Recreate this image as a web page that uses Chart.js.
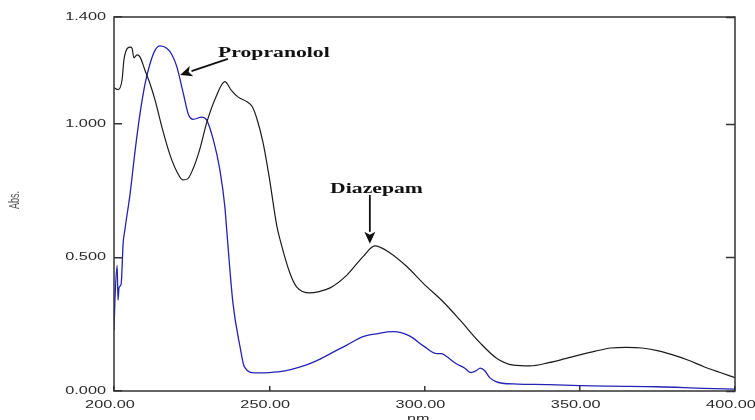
<!DOCTYPE html>
<html>
<head>
<meta charset="utf-8">
<script src="https://cdn.jsdelivr.net/npm/chart.js@4.4.1/dist/chart.umd.min.js"></script>
<style>
  html, body { margin: 0; padding: 0; background: #fff; }
  canvas { display: block; }
</style>
</head>
<body>
<canvas id="spectrum" width="755" height="420"></canvas>
<script>
// values (wavelength in nm, absorbance)
const diazepamNm = [200, 201.3, 202.6, 203.2, 204.5, 205.2, 205.8, 206.4, 207.4, 208.4,
  210, 211.6, 213.2, 215.5, 218, 220.3, 222.2, 223.8, 225.4, 227.5,
  230, 232.8, 235.7, 237.8, 240, 242.8, 244.5, 246, 248, 250,
  252.4, 253.5, 256.7, 258.8, 263.1, 266, 269.6, 275, 280.2, 284,
  288.9, 294.3, 299.6, 306, 311.4, 317.9, 323.2, 328.6, 334, 340,
  345, 350, 355, 360, 365, 370, 375, 380, 385, 390, 395, 400];
const diazepamAbs = [1.135, 1.128, 1.165, 1.24, 1.285, 1.287, 1.283, 1.247, 1.258, 1.25,
  1.2, 1.15, 1.09, 0.985, 0.885, 0.82, 0.79, 0.795, 0.83, 0.9,
  1.01, 1.10, 1.158, 1.125, 1.10, 1.083, 1.065, 1.02, 0.93, 0.8,
  0.62, 0.566, 0.44, 0.39, 0.367, 0.372, 0.386, 0.434, 0.503, 0.543,
  0.517, 0.466, 0.403, 0.334, 0.266, 0.18, 0.123, 0.097, 0.094, 0.106,
  0.12, 0.135, 0.149, 0.161, 0.163, 0.161, 0.151, 0.135, 0.115, 0.091, 0.07, 0.05];

const propranololNm = [200, 200.3, 201, 201.3, 201.6, 202.3, 202.6, 202.9, 203.5, 205.2,
  206.8, 208.4, 210, 211.6, 213.2, 214.8, 217, 218.7, 220.2, 222.3,
  224, 225.5, 228.2, 229.8, 232, 234.1, 235.7, 236.3, 238.3, 240.6,
  242, 245.4, 250, 255, 260, 265, 270, 275, 280, 285,
  290, 295, 300, 304, 305.5, 307, 310, 313, 315, 316.5,
  318, 319.5, 321, 323, 325, 330, 340, 350, 360, 375, 390, 400];
const propranololAbs = [0.228, 0.34, 0.47, 0.34, 0.386, 0.40, 0.46, 0.547, 0.603, 0.74,
  0.90, 1.04, 1.15, 1.225, 1.275, 1.292, 1.283, 1.258, 1.215, 1.115,
  1.034, 1.017, 1.025, 1.015, 0.94, 0.828, 0.69, 0.603, 0.33, 0.165,
  0.09, 0.068, 0.069, 0.075, 0.09, 0.112, 0.142, 0.172, 0.203, 0.215,
  0.222, 0.207, 0.166, 0.14, 0.14, 0.13, 0.104, 0.085, 0.069, 0.075,
  0.086, 0.075, 0.05, 0.035, 0.029, 0.026, 0.024, 0.02, 0.018, 0.016, 0.01, 0.007];

const xTicks = [200, 250, 300, 350, 400];
const xTickLabels = ["200.00", "250.00", "300.00", "350.00", "400.00"];
const yTicks = [0, 0.5, 1.0, 1.4];
const yTickLabels = ["0.000", "0.500", "1.000", "1.400"];

// callouts, placed in data coordinates
const callouts = [
  { text: "Propranolol", at: [233.5, 1.251], tail: [236.7, 1.243], tip: [221.3, 1.183] },
  { text: "Diazepam", at: [269.6, 0.742], tail: [282.4, 0.734], tip: [282.4, 0.551] }
];

// the scan is stretched sideways, so all text is widened the same way
const STRETCH = 1.55;

function wideText(ctx, text, x, y, align) {
  ctx.save();
  ctx.translate(x, y);
  ctx.scale(STRETCH, 1);
  ctx.textAlign = align;
  ctx.fillText(text, 0, 0);
  ctx.restore();
}

function arrow(ctx, x1, y1, x2, y2) {
  const ang = Math.atan2(y2 - y1, x2 - x1);
  const len = 12, half = 5.5;
  const bx = x2 - Math.cos(ang) * len, by = y2 - Math.sin(ang) * len;
  ctx.beginPath();
  ctx.moveTo(x1, y1);
  ctx.lineTo(bx, by);
  ctx.stroke();
  ctx.beginPath();
  ctx.moveTo(x2, y2);
  ctx.lineTo(bx + Math.sin(ang) * half, by - Math.cos(ang) * half);
  ctx.lineTo(bx + Math.cos(ang) * 3, by + Math.sin(ang) * 3);
  ctx.lineTo(bx - Math.sin(ang) * half, by + Math.cos(ang) * half);
  ctx.closePath();
  ctx.fill();
}

const decor = {
  id: "decor",
  afterDraw(chart) {
    const { ctx, chartArea: a, scales: { x, y } } = chart;
    ctx.save();

    ctx.strokeStyle = "#333";
    ctx.lineWidth = 1.5;
    ctx.strokeRect(a.left, a.top, a.right - a.left, a.bottom - a.top);

    // inner ticks on the right edge
    ctx.beginPath();
    yTicks.forEach(v => {
      const py = Math.round(y.getPixelForValue(v)) + 0.5;
      ctx.moveTo(a.right, py);
      ctx.lineTo(a.right - 9, py);
    });
    ctx.stroke();

    ctx.fillStyle = "#2a2a2a";
    ctx.font = '10.5px "Liberation Sans", Arial, sans-serif';
    ctx.textBaseline = "middle";
    yTicks.forEach((v, i) => wideText(ctx, yTickLabels[i], a.left - 8, y.getPixelForValue(v), "right"));
    xTicks.forEach((v, i) => wideText(ctx, xTickLabels[i], x.getPixelForValue(v) - 4, a.bottom + 14, "center"));

    wideText(ctx, "nm.", x.getPixelForValue(300) - 4, a.bottom + 28, "center");

    ctx.fillStyle = "#555";
    ctx.font = '9px "Liberation Sans", Arial, sans-serif';
    ctx.save();
    ctx.translate(15, (a.top + a.bottom) / 2 - 4);
    ctx.scale(STRETCH, 1);
    ctx.rotate(-Math.PI / 2);
    ctx.textAlign = "center";
    ctx.fillText("Abs.", 0, 0);
    ctx.restore();

    // labels with arrows
    ctx.fillStyle = "#111";
    ctx.strokeStyle = "#111";
    ctx.lineWidth = 1.8;
    ctx.font = 'bold 14px "Liberation Serif", "Times New Roman", serif';
    ctx.textBaseline = "alphabetic";
    callouts.forEach(c => {
      wideText(ctx, c.text, x.getPixelForValue(c.at[0]), y.getPixelForValue(c.at[1]), "left");
      arrow(ctx,
        x.getPixelForValue(c.tail[0]), y.getPixelForValue(c.tail[1]),
        x.getPixelForValue(c.tip[0]), y.getPixelForValue(c.tip[1]));
    });

    ctx.restore();
  }
};

function toPoints(xs, ys) {
  return xs.map((v, i) => ({ x: v, y: ys[i] }));
}

new Chart(document.getElementById("spectrum"), {
  type: "line",
  data: {
    datasets: [
      {
        label: "Diazepam",
        data: toPoints(diazepamNm, diazepamAbs),
        borderColor: "#1c1c1c",
        borderWidth: 1.2
      },
      {
        label: "Propranolol",
        data: toPoints(propranololNm, propranololAbs),
        borderColor: "#2323b4",
        borderWidth: 1.3
      }
    ]
  },
  options: {
    responsive: false,
    animation: false,
    devicePixelRatio: 1,
    layout: { padding: { top: 17, right: 0, bottom: 0, left: 0 } },
    elements: {
      point: { radius: 0 },
      line: { cubicInterpolationMode: "monotone" }
    },
    plugins: {
      legend: { display: false },
      tooltip: { enabled: false }
    },
    scales: {
      x: {
        type: "linear",
        min: 200,
        max: 400,
        afterBuildTicks: s => { s.ticks = xTicks.map(v => ({ value: v })); },
        afterFit: s => { s.height = 29; s.paddingLeft = 0; s.paddingRight = 0; },
        ticks: { display: false },
        border: { display: false },
        grid: { drawOnChartArea: false, tickLength: -5, color: "#333", lineWidth: 1.5 }
      },
      y: {
        min: 0,
        max: 1.4,
        afterBuildTicks: s => { s.ticks = yTicks.map(v => ({ value: v })); },
        afterFit: s => { s.width = 114; },
        ticks: { display: false },
        border: { display: false },
        grid: { drawOnChartArea: false, tickLength: -8, color: "#333", lineWidth: 1.5 }
      },
      y2: {
        position: "right",
        min: 0,
        max: 1.4,
        afterFit: s => { s.width = 20; },
        ticks: { display: false },
        border: { display: false },
        grid: { display: false }
      }
    }
  },
  plugins: [decor]
});
</script>
</body>
</html>
